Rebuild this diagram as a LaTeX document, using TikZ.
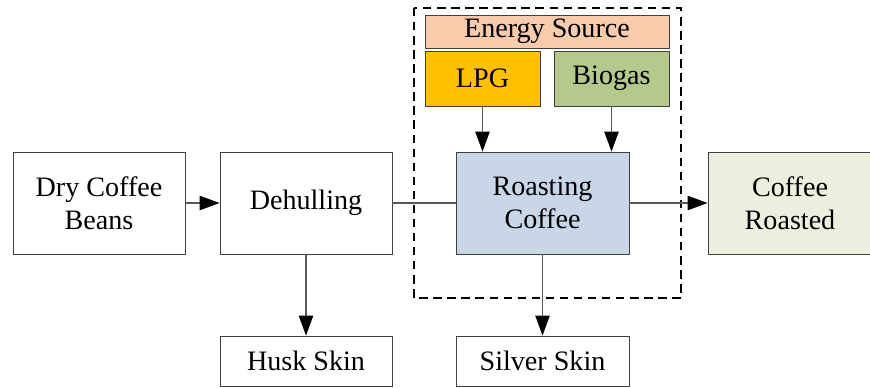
\documentclass[tikz,border=0pt]{standalone}
\usepackage{fontspec}
\setmainfont{Liberation Serif}
\usetikzlibrary{arrows.meta,positioning}

\definecolor{roastblue}{HTML}{C9D6E7}
\definecolor{roastgreen}{HTML}{EBEFDD}
\definecolor{energypeach}{HTML}{F8CBAD}
\definecolor{lpgorange}{HTML}{FFC000}
\definecolor{biogasgreen}{HTML}{B4C98B}

\begin{document}
\begin{tikzpicture}[
    every node/.style={font=\fontsize{20}{23.5}\selectfont},
    process/.style={draw=black!75, line width=0.6pt, align=center,
        minimum width=4.3cm, minimum height=2.55cm, inner sep=0pt},
    product/.style={process, minimum height=1.25cm},
    source/.style={draw=black!75, line width=0.6pt, minimum width=2.875cm,
        minimum height=1.375cm, inner sep=0pt},
    flow/.style={draw=black!65, line width=0.8pt,
        -{Triangle[length=5mm,width=3.6mm,color=black]}}]
        \useasboundingbox (0,0) rectangle (21.75,-9.7);

        % main line
        \node[process] (dry) at (2.475,-5.075) {Dry Coffee\\Beans};
        \node[process] (dehull) at (7.65,-5.075) {Dehulling};
        \node[process, fill=roastblue, minimum width=4.325cm] (roast) at (13.5625,-5.075) {Roasting\\Coffee};
        \node[process, fill=roastgreen, minimum width=4.1cm] (roasted) at (19.75,-5.075) {Coffee\\Roasted};

        % by-products
        \node[product] (husk) at (7.65,-9.025) {Husk Skin};
        \node[product, minimum width=4.325cm] (silver) at (13.5625,-9.025) {Silver Skin};

        % energy
        \node[draw=black!75, line width=0.6pt, fill=energypeach, minimum width=6.1cm,
            minimum height=0.825cm, inner sep=0pt] (energy) at (13.675,-0.7875) {Energy Source};
        \node[source, fill=lpgorange] (lpg) at (12.0625,-1.9625) {LPG};
        \node[source, fill=biogasgreen] (biogas) at (15.2875,-1.9625) {Biogas};

        \draw[line width=1pt, dash pattern=on 6pt off 4pt] (10.35,-0.2) rectangle (17.025,-7.45);

        \draw[flow] (dry) -- (dehull);
        \draw[draw=black!65, line width=0.8pt] (dehull) -- (roast);
        \draw[flow] (roast) -- (roasted);
        \draw[flow] (dehull) -- (husk);
        \draw[flow] (roast) -- (silver);
        \draw[flow] (lpg) -- (lpg |- roast.north);
        \draw[flow] (biogas) -- (biogas |- roast.north);

    \end{tikzpicture}
\end{document}
